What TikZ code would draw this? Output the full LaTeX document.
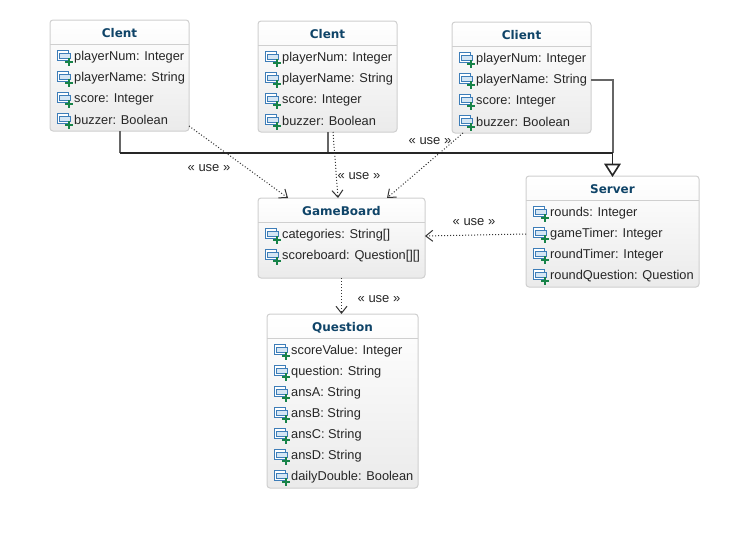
\documentclass[tikz,border=0pt]{standalone}
\usepackage{fontspec}
\setmainfont{Liberation Sans}
\newfontfamily\titlefont{DejaVu Sans}
\usepackage{xcolor}
\usetikzlibrary{arrows.meta, calc, positioning}
\definecolor{titleblue}{HTML}{0F4468}
\definecolor{boxline}{HTML}{CFCFCF}
\definecolor{iconblue}{HTML}{3D7DB8}
\definecolor{iconfill}{HTML}{D5E6F4}
\definecolor{icongreen}{HTML}{1B9A55}
\tikzstyle{classbox}   = [rectangle, draw=boxline, line width=1pt, rounded corners=3pt, top color=white, bottom color=black!8, inner sep=0pt, outer sep=0pt]
\tikzstyle{classtitle} = [font=\titlefont\fontsize{12}{14}\selectfont\bfseries, text=titleblue, inner sep=0pt]
\tikzstyle{attr}       = [anchor=west, font=\fontsize{12.8}{14}\selectfont, text=black!85, inner sep=0pt]
\tikzstyle{uselabel}   = [font=\fontsize{13}{14}\selectfont, text=black!85, inner sep=0pt]
\tikzstyle{inherit}    = [line width=2pt, draw=black!60]
\tikzstyle{inheritdark} = [line width=1.5pt, draw=black!85]
\tikzstyle{usearrow}   = [dotted, line width=1pt, draw=black!80, -{Straight Barb[length=7pt,width=11pt]}]
\tikzset{
  attricon/.pic={
    \draw[iconblue, fill=white, line width=1pt] (0,-5.5) rectangle (11.5,4);
    \draw[iconblue, fill=iconfill, line width=1pt] (2,-3) rectangle (13,2);
    \draw[icongreen!85!black, line width=2.4pt] (8,6) -- (15.5,6);
    \draw[icongreen!85!black, line width=2.4pt] (11.7,2.2) -- (11.7,9.8);
  }
}
% one class box: name, centre x, centre y, width, height, title
\newcommand{\umlclass}[6]{
  \node[classbox, minimum width=#4pt, minimum height=#5pt] (#1) at (#2,#3) {};
  \draw[boxline, line width=1.5pt] ([yshift=-24.5pt]#1.north west) -- ([yshift=-24.5pt]#1.north east);
  \node[classtitle] (#1title) at ([yshift=-13.5pt]#1.north) {#6};
}
% attribute rows of a class box
\newcommand{\umlattrs}[2]{
  \foreach \t [count=\i] in {#2} {
    \pic at ([xshift=7pt,yshift=-15pt-21pt*\i]#1.north west) {attricon};
    \node[attr] (#1attr\i) at ([xshift=24pt,yshift=-16pt-21pt*\i]#1.north west) {\t};
  }
}

\begin{document}
\begin{tikzpicture}[x=1pt, y=-1pt]
  \useasboundingbox (0,0) rectangle (749,538);

  % Clients
  \umlclass{clientA}{119.5}{75.5}{139}{111}{Clent}
  \umlattrs{clientA}{playerNum: Integer, playerName: String, score: Integer, buzzer: Boolean}
  \umlclass{clientB}{327.5}{76.5}{139}{111}{Clent}
  \umlattrs{clientB}{playerNum: Integer, playerName: String, score: Integer, buzzer: Boolean}
  \umlclass{clientC}{521.5}{77.5}{139}{111}{Client}
  \umlattrs{clientC}{playerNum: Integer, playerName: String, score: Integer, buzzer: Boolean}

  % Server
  \umlclass{server}{612.5}{231.5}{173}{111}{Server}
  \umlattrs{server}{rounds: Integer, gameTimer: Integer, roundTimer: Integer, roundQuestion: Question}

  % GameBoard
  \umlclass{gameboard}{341.5}{238}{167}{80}{GameBoard}
  \umlattrs{gameboard}{categories: String[], scoreboard: Question[][]}

  % Question
  \umlclass{question}{342.5}{401}{151}{174}{Question}
  \umlattrs{question}{scoreValue: Integer, question: String, ansA: String, ansB: String, ansC: String, ansD: String, dailyDouble: Boolean}

  % Generalisation lines
  \draw[inherit] (clientA.south) -- (clientA.south |- 0,153);
  \draw[inherit] (clientB.south) -- (clientB.south |- 0,153);
  \draw[inherit] (clientC.east |- clientCattr2) -| (server.north |- 0,153);
  \draw[inheritdark] (clientA.south |- 0,153) -- (server.north |- 0,153) -- ([yshift=10pt]server.north);
  \draw[line width=1.6pt, draw=black!85, fill=white] ([yshift=0.5pt]server.north) -- ++(-7,-11) -- ++(14,0) -- cycle;

  % Use dependencies
  \draw[usearrow] ([yshift=5pt]clientA.south east) -- ([xshift=-53.5pt]gameboard.north);
  \draw[usearrow] ([xshift=5.5pt]clientB.south) -- ([xshift=-3.5pt]gameboard.north);
  \draw[usearrow] ([xshift=-58.5pt]clientC.south) -- ([xshift=45.5pt]gameboard.north);
  \draw[usearrow] (server.west |- serverattr2) -- ([yshift=2pt]gameboard.east);
  \draw[usearrow] (gameboard.south) -- (gameboard.south |- question.north);

  % Labels
  \node[uselabel] (useA) at (209,168) {« use »};
  \node[uselabel] (useB) at (359,176) {« use »};
  \node[uselabel] (useC) at (430,141) {« use »};
  \node[uselabel] (useD) at (474,222) {« use »};
  \node[uselabel] (useE) at (379,299) {« use »};
\end{tikzpicture}
\end{document}
